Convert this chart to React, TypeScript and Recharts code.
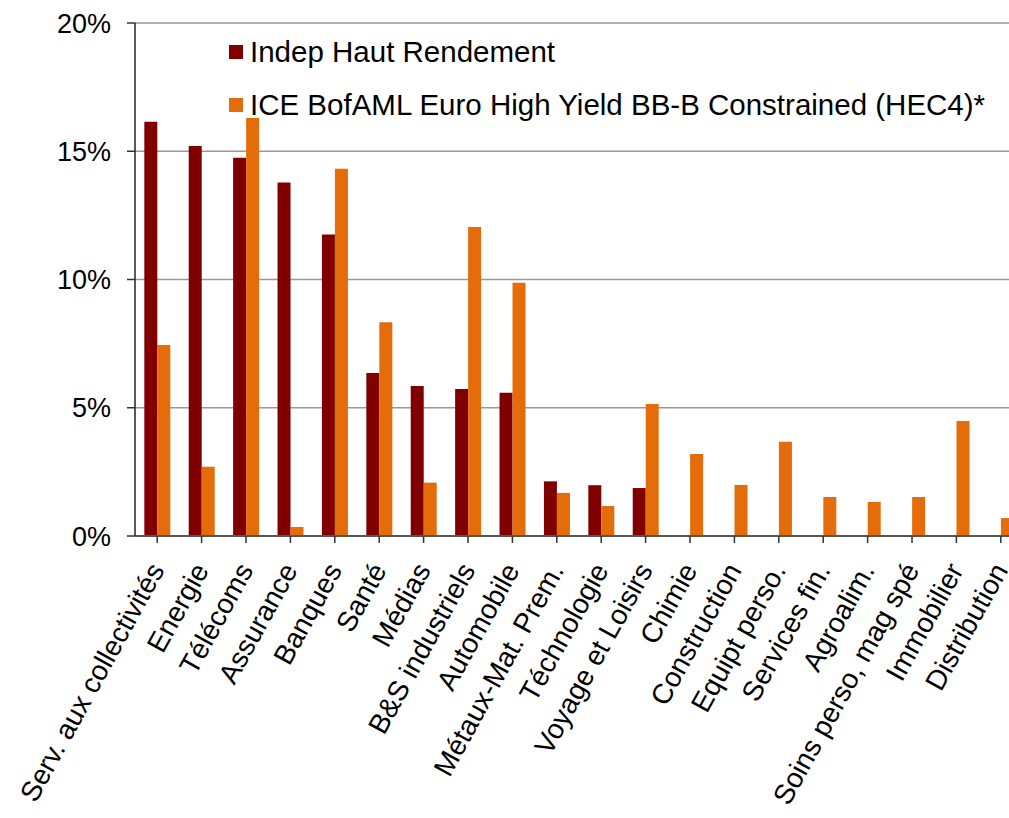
import { BarChart, Bar, XAxis, YAxis, CartesianGrid } from "recharts"

const sectors = [
  "Serv. aux collectivités",
  "Energie",
  "Télécoms",
  "Assurance",
  "Banques",
  "Santé",
  "Médias",
  "B&S industriels",
  "Automobile",
  "Métaux-Mat. Prem.",
  "Téchnologie",
  "Voyage et Loisirs",
  "Chimie",
  "Construction",
  "Equipt perso.",
  "Services fin.",
  "Agroalim.",
  "Soins perso, mag spé",
  "Immobilier",
  "Distribution",
]

const fundWeights = [16.15, 15.2, 14.75, 13.78, 11.75, 6.35, 5.85, 5.73, 5.58, 2.13, 1.98, 1.87, 0, 0, 0, 0, 0, 0, 0, 0]
const indexWeights = [7.45, 2.7, 16.3, 0.35, 14.32, 8.33, 2.08, 12.05, 9.87, 1.68, 1.17, 5.15, 3.2, 1.99, 3.67, 1.52, 1.33, 1.52, 4.48, 0.7]

const yTicks = [0, 5, 10, 15, 20]

const FUND = "Indep Haut Rendement"
const INDEX = "ICE BofAML Euro High Yield BB-B Constrained (HEC4)*"

const RED = "#800000"
const ORANGE = "#E46C0A"
const FONT = "'Liberation Sans', Arial, sans-serif"

const data = sectors.map((name, i) => ({
  name,
  fund: fundWeights[i],
  index: indexWeights[i],
}))

function SectorTick(props: any) {
  const { x, y, payload } = props
  const tx = x + 8
  const ty = y + 25
  return (
    <text
      x={tx}
      y={ty}
      transform={`rotate(-61, ${tx}, ${ty})`}
      textAnchor="end"
      fontSize={28}
      fontFamily={FONT}
      fill="#000"
    >
      {payload.value}
    </text>
  )
}

function LegendBox() {
  const rows = [
    { label: FUND, color: RED },
    { label: INDEX, color: ORANGE },
  ]
  return (
    <div style={{ position: "absolute", left: 229, top: 25, fontFamily: FONT, fontSize: 29.5, color: "#000" }}>
      {rows.map((r) => (
        <div key={r.label} style={{ display: "flex", alignItems: "center", height: 53, whiteSpace: "nowrap" }}>
          <span style={{ width: 14, height: 14, background: r.color, display: "inline-block", marginRight: 7 }} />
          <span>{r.label}</span>
        </div>
      ))}
    </div>
  )
}

export default function App() {
  return (
    <div style={{ position: "absolute", left: 0, top: 0, width: 1009, height: 818, overflow: "hidden", background: "#fff" }}>
      <BarChart
        width={1045}
        height={818}
        data={data}
        margin={{ top: 23, right: 22, bottom: 0, left: 0 }}
        barGap={0}
        barCategoryGap="21%"
      >
        <CartesianGrid vertical={false} stroke="#999" strokeWidth={1.5} />
        <XAxis
          dataKey="name"
          interval={0}
          height={282}
          tick={<SectorTick />}
          tickSize={7}
          axisLine={{ stroke: "#555", strokeWidth: 2 }}
          tickLine={{ stroke: "#333", strokeWidth: 1.5 }}
        />
        <YAxis
          width={135}
          domain={[0, 20]}
          ticks={yTicks}
          tickFormatter={(v: number) => `${v}%`}
          tickSize={8}
          tickMargin={16}
          tick={{ fontSize: 27, fontFamily: FONT, fill: "#000" }}
          axisLine={{ stroke: "#222", strokeWidth: 1.5 }}
          tickLine={{ stroke: "#333", strokeWidth: 1.5 }}
        />
        <Bar dataKey="fund" name={FUND} fill={RED} isAnimationActive={false} />
        <Bar dataKey="index" name={INDEX} fill={ORANGE} isAnimationActive={false} />
      </BarChart>
      <LegendBox />
    </div>
  )
}
